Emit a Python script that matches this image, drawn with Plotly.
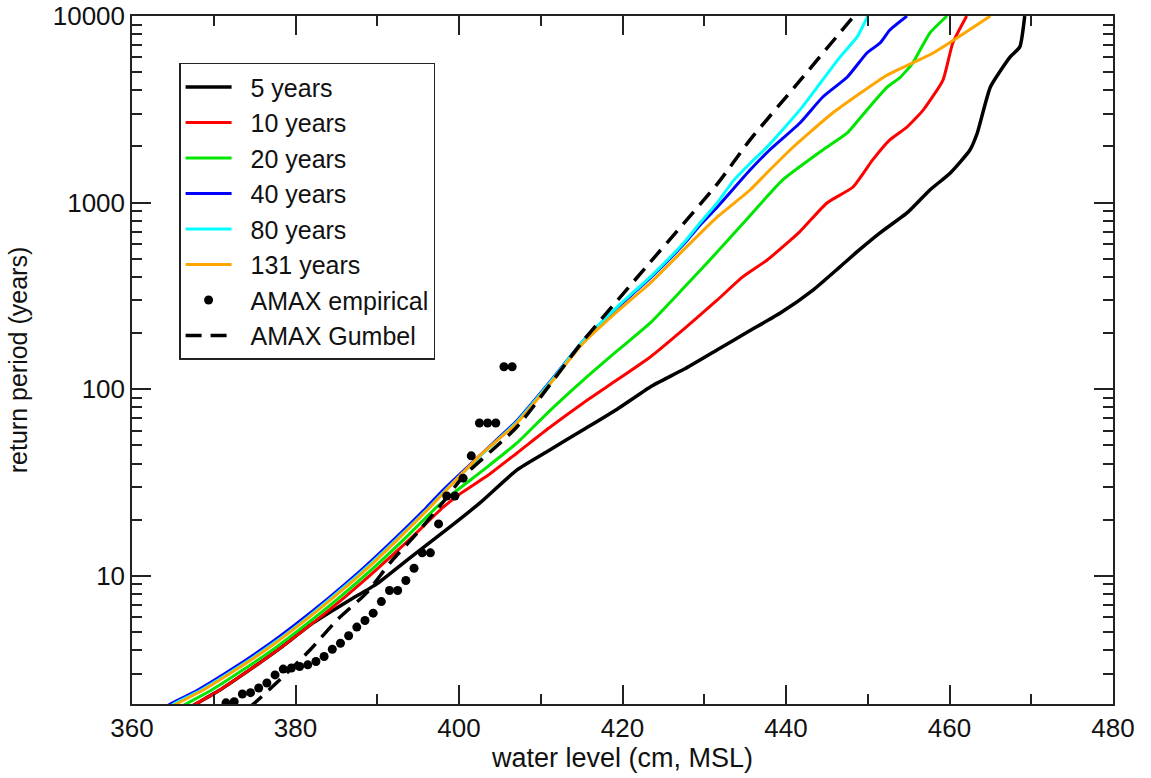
import math
import plotly.graph_objects as go

# Return-period curves: water level (cm, MSL) vs return period (years)
lvl_5y = [367.3, 367.8, 370.7, 374.3, 378.05, 381.9, 384.5, 386.7, 390.0, 394.0, 398.9, 402.6,
          407.1, 411.0, 415.2, 419.3, 423.4, 427.5, 431.6, 435.5, 439.3, 443.3, 446.6, 449.0,
          451.5, 454.8, 457.6, 460.1, 462.5, 463.4, 465.0, 467.4, 468.6, 469.2]
rp_5y = [2.0, 2.06, 2.44, 3.12, 4.08, 5.5, 6.5, 7.45, 9.1, 12.5, 18.3, 24.7,
         37, 47, 60.7, 78, 103, 128, 163, 205, 256, 340, 453, 560,
         689, 881, 1169, 1443, 1915, 2362, 4169, 6025, 6830, 10000]

lvl_10y = [367.3, 367.8, 370.7, 374.3, 378.05, 381.9, 385.85, 389.8, 393.9, 398.0, 400.1, 403.5,
           407.1, 411.0, 415.2, 419.3, 423.4, 427.5, 431.6, 434.7, 437.7, 441.7, 445.0, 448.2,
           450.6, 452.7, 454.8, 456.8, 459.2, 460.4, 462.1]
rp_10y = [2.0, 2.06, 2.44, 3.12, 4.08, 5.5, 7.58, 10.7, 15.6, 23.2, 27.5, 34.5,
          45.6, 62, 84.5, 112, 149, 210, 301, 400, 493, 700, 996, 1213,
          1694, 2168, 2541, 3140, 4539, 7166, 10000]

lvl_20y = [366.1, 366.6, 369.7, 373.5, 377.4, 381.3, 385.25, 389.2, 393.2, 397.2, 399.2, 403.0,
           407.1, 411.0, 415.2, 419.3, 423.4, 427.5, 431.6, 434.7, 439.6, 444.5, 447.5, 449.9,
           452.4, 453.9, 455.5, 457.6, 459.7]
rp_20y = [2.0, 2.06, 2.44, 3.12, 4.08, 5.5, 7.58, 10.7, 15.6, 23.2, 27.5, 37,
          51.6, 76, 112, 160, 227, 350, 545, 770, 1324, 1915, 2362, 3140,
          4169, 4656, 5597, 8110, 10000]

lvl_40y = [364.2, 364.7, 368.0, 372.0, 376.0, 380.0, 384.0, 388.0, 392.0, 396.0, 398.0, 402.5,
           407.1, 411.0, 415.2, 419.3, 423.4, 427.5, 429.5, 431.6, 435.6, 438.0, 441.7, 444.5,
           447.5, 449.9, 451.5, 452.7, 454.8]
rp_40y = [2.0, 2.06, 2.44, 3.12, 4.08, 5.5, 7.58, 10.7, 15.6, 23.2, 28.7, 44,
          68, 108, 182, 272, 395, 600, 760, 948, 1496, 1915, 2673, 3683,
          4713, 6337, 7166, 8413, 10000]

lvl_80y = [364.6, 365.1, 368.4, 372.4, 376.4, 380.4, 384.3, 388.3, 392.3, 396.3, 398.3, 402.6,
           407.1, 411.0, 415.2, 419.3, 423.4, 427.5, 429.5, 431.6, 433.5, 435.6, 437.7, 441.7,
           444.2, 446.6, 448.7, 450.0]
rp_80y = [2.0, 2.06, 2.44, 3.12, 4.08, 5.5, 7.58, 10.7, 15.6, 23.2, 28.7, 44,
          67, 107, 182, 275, 400, 610, 780, 1000, 1300, 1620, 1990, 3140,
          4375, 6025, 7726, 10000]

lvl_131y = [364.9, 365.4, 368.65, 372.6, 376.6, 380.55, 384.5, 388.5, 392.45, 396.4, 398.4, 402.5,
            407.1, 411.0, 415.2, 419.3, 423.4, 427.5, 431.6, 435.6, 437.7, 440.5, 445.7, 452.4,
            458.0, 465.0]
rp_131y = [2.0, 2.06, 2.44, 3.12, 4.08, 5.5, 7.58, 10.7, 15.6, 23.2, 28.7, 44,
           66, 105, 177, 260, 371, 560, 838, 1169, 1450, 1915, 3020, 4830,
           6337, 10000]

# Annual maxima: empirical return periods
amax_lvl = [371.5, 372.5, 373.5, 374.5, 375.5, 376.5, 377.5, 378.5, 379.5, 380.5, 381.5, 382.5,
            383.5, 384.5, 385.5, 386.5, 387.5, 388.5, 389.5, 390.5, 391.5, 392.5, 393.5, 394.5,
            395.5, 396.5, 397.5, 398.5, 399.5, 400.5, 401.5, 402.5, 403.5, 404.5, 405.5, 406.5]
amax_rp = [2.09, 2.12, 2.33, 2.37, 2.51, 2.67, 2.95, 3.17, 3.21, 3.27, 3.34, 3.48,
           3.70, 4.05, 4.36, 4.78, 5.32, 5.77, 6.32, 7.29, 8.35, 8.35, 9.45, 11.0,
           13.3, 13.3, 19.0, 26.8, 26.8, 33.4, 44, 66, 66, 66, 132, 132]

# Gumbel fit to the annual maxima
gumbel_lvl = [374.4, 374.8, 378.5, 381.8, 385.1, 388.7, 391.6, 394.9, 398.0, 400.5, 407.1, 415.2,
              423.4, 431.6, 435.6, 441.7, 448.3]
gumbel_rp = [2.0, 2.05, 2.89, 4.02, 5.82, 8.12, 11.8, 17.0, 24.7, 34.0, 63, 182,
             480, 1260, 2168, 4500, 10000]

curves = [
    ("5 years", lvl_5y, rp_5y, "#000000", 3.5),
    ("10 years", lvl_10y, rp_10y, "#ff0000", 3),
    ("20 years", lvl_20y, rp_20y, "#00e600", 3),
    ("40 years", lvl_40y, rp_40y, "#0000ff", 3),
    ("80 years", lvl_80y, rp_80y, "#00ffff", 3),
    ("131 years", lvl_131y, rp_131y, "#ffa500", 3),
]

FONT = "Liberation Sans, Arial, Helvetica, sans-serif"
AXIS_COLOR = "#222222"
PAD = "\u00a0\u00a0"  # gap between legend symbol and label


fig = go.Figure()
for name, xs, ys, color, width in curves:
    fig.add_trace(go.Scatter(x=xs, y=ys, mode="lines", name=PAD + name,
                             line=dict(color=color, width=width,
                                       shape="spline", smoothing=0.5)))

fig.add_trace(go.Scatter(x=amax_lvl, y=amax_rp, mode="markers", name=PAD + "AMAX empirical",
                         marker=dict(color="#000000", size=9)))
fig.add_trace(go.Scatter(x=gumbel_lvl, y=gumbel_rp, mode="lines", name=PAD + "AMAX Gumbel",
                         line=dict(color="#000000", width=3.5, dash="16px,9px",
                                   shape="spline", smoothing=0.6)))

y_minor = [m * 10 ** k for k in range(0, 4) for m in range(2, 10)]

fig.update_layout(
    width=1151, height=778,
    margin=dict(l=132, r=38, t=16, b=74),
    paper_bgcolor="white", plot_bgcolor="white",
    font=dict(family=FONT, size=26, color="#111111"),
    showlegend=True,
    legend=dict(x=0.048, y=0.932, xanchor="left", yanchor="top",
                bgcolor="white", bordercolor=AXIS_COLOR, borderwidth=1.5,
                font=dict(size=25, family=FONT), tracegroupgap=0,
                itemwidth=46),
    xaxis=dict(
        range=[360, 480], dtick=20, tick0=360, automargin=False,
        showgrid=False, zeroline=False,
        showline=True, linecolor=AXIS_COLOR, linewidth=1.5, mirror="allticks",
        ticks="inside", ticklen=19, tickwidth=1.5, tickcolor=AXIS_COLOR,
        minor=dict(ticks="inside", ticklen=10, tickwidth=1.5, dtick=10,
                   tickcolor=AXIS_COLOR, showgrid=False),
        tickfont=dict(size=26),
        title=dict(text="water level (cm, MSL)", font=dict(size=27), standoff=2),
    ),
    yaxis=dict(
        type="log", range=[math.log10(2.06), 4], automargin=False,
        tickvals=[10, 100, 1000, 10000], ticktext=["10", "100", "1000", "10000"],
        showgrid=False, zeroline=False,
        showline=True, linecolor=AXIS_COLOR, linewidth=1.5, mirror="allticks",
        ticks="inside", ticklen=19, tickwidth=1.5, tickcolor=AXIS_COLOR,
        minor=dict(ticks="inside", ticklen=10, tickwidth=1.5, tickvals=y_minor,
                   tickcolor=AXIS_COLOR, showgrid=False),
        tickfont=dict(size=26),
        title=dict(text="return period (years)", font=dict(size=25), standoff=18),
    ),
)

fig.write_html("out.html")
